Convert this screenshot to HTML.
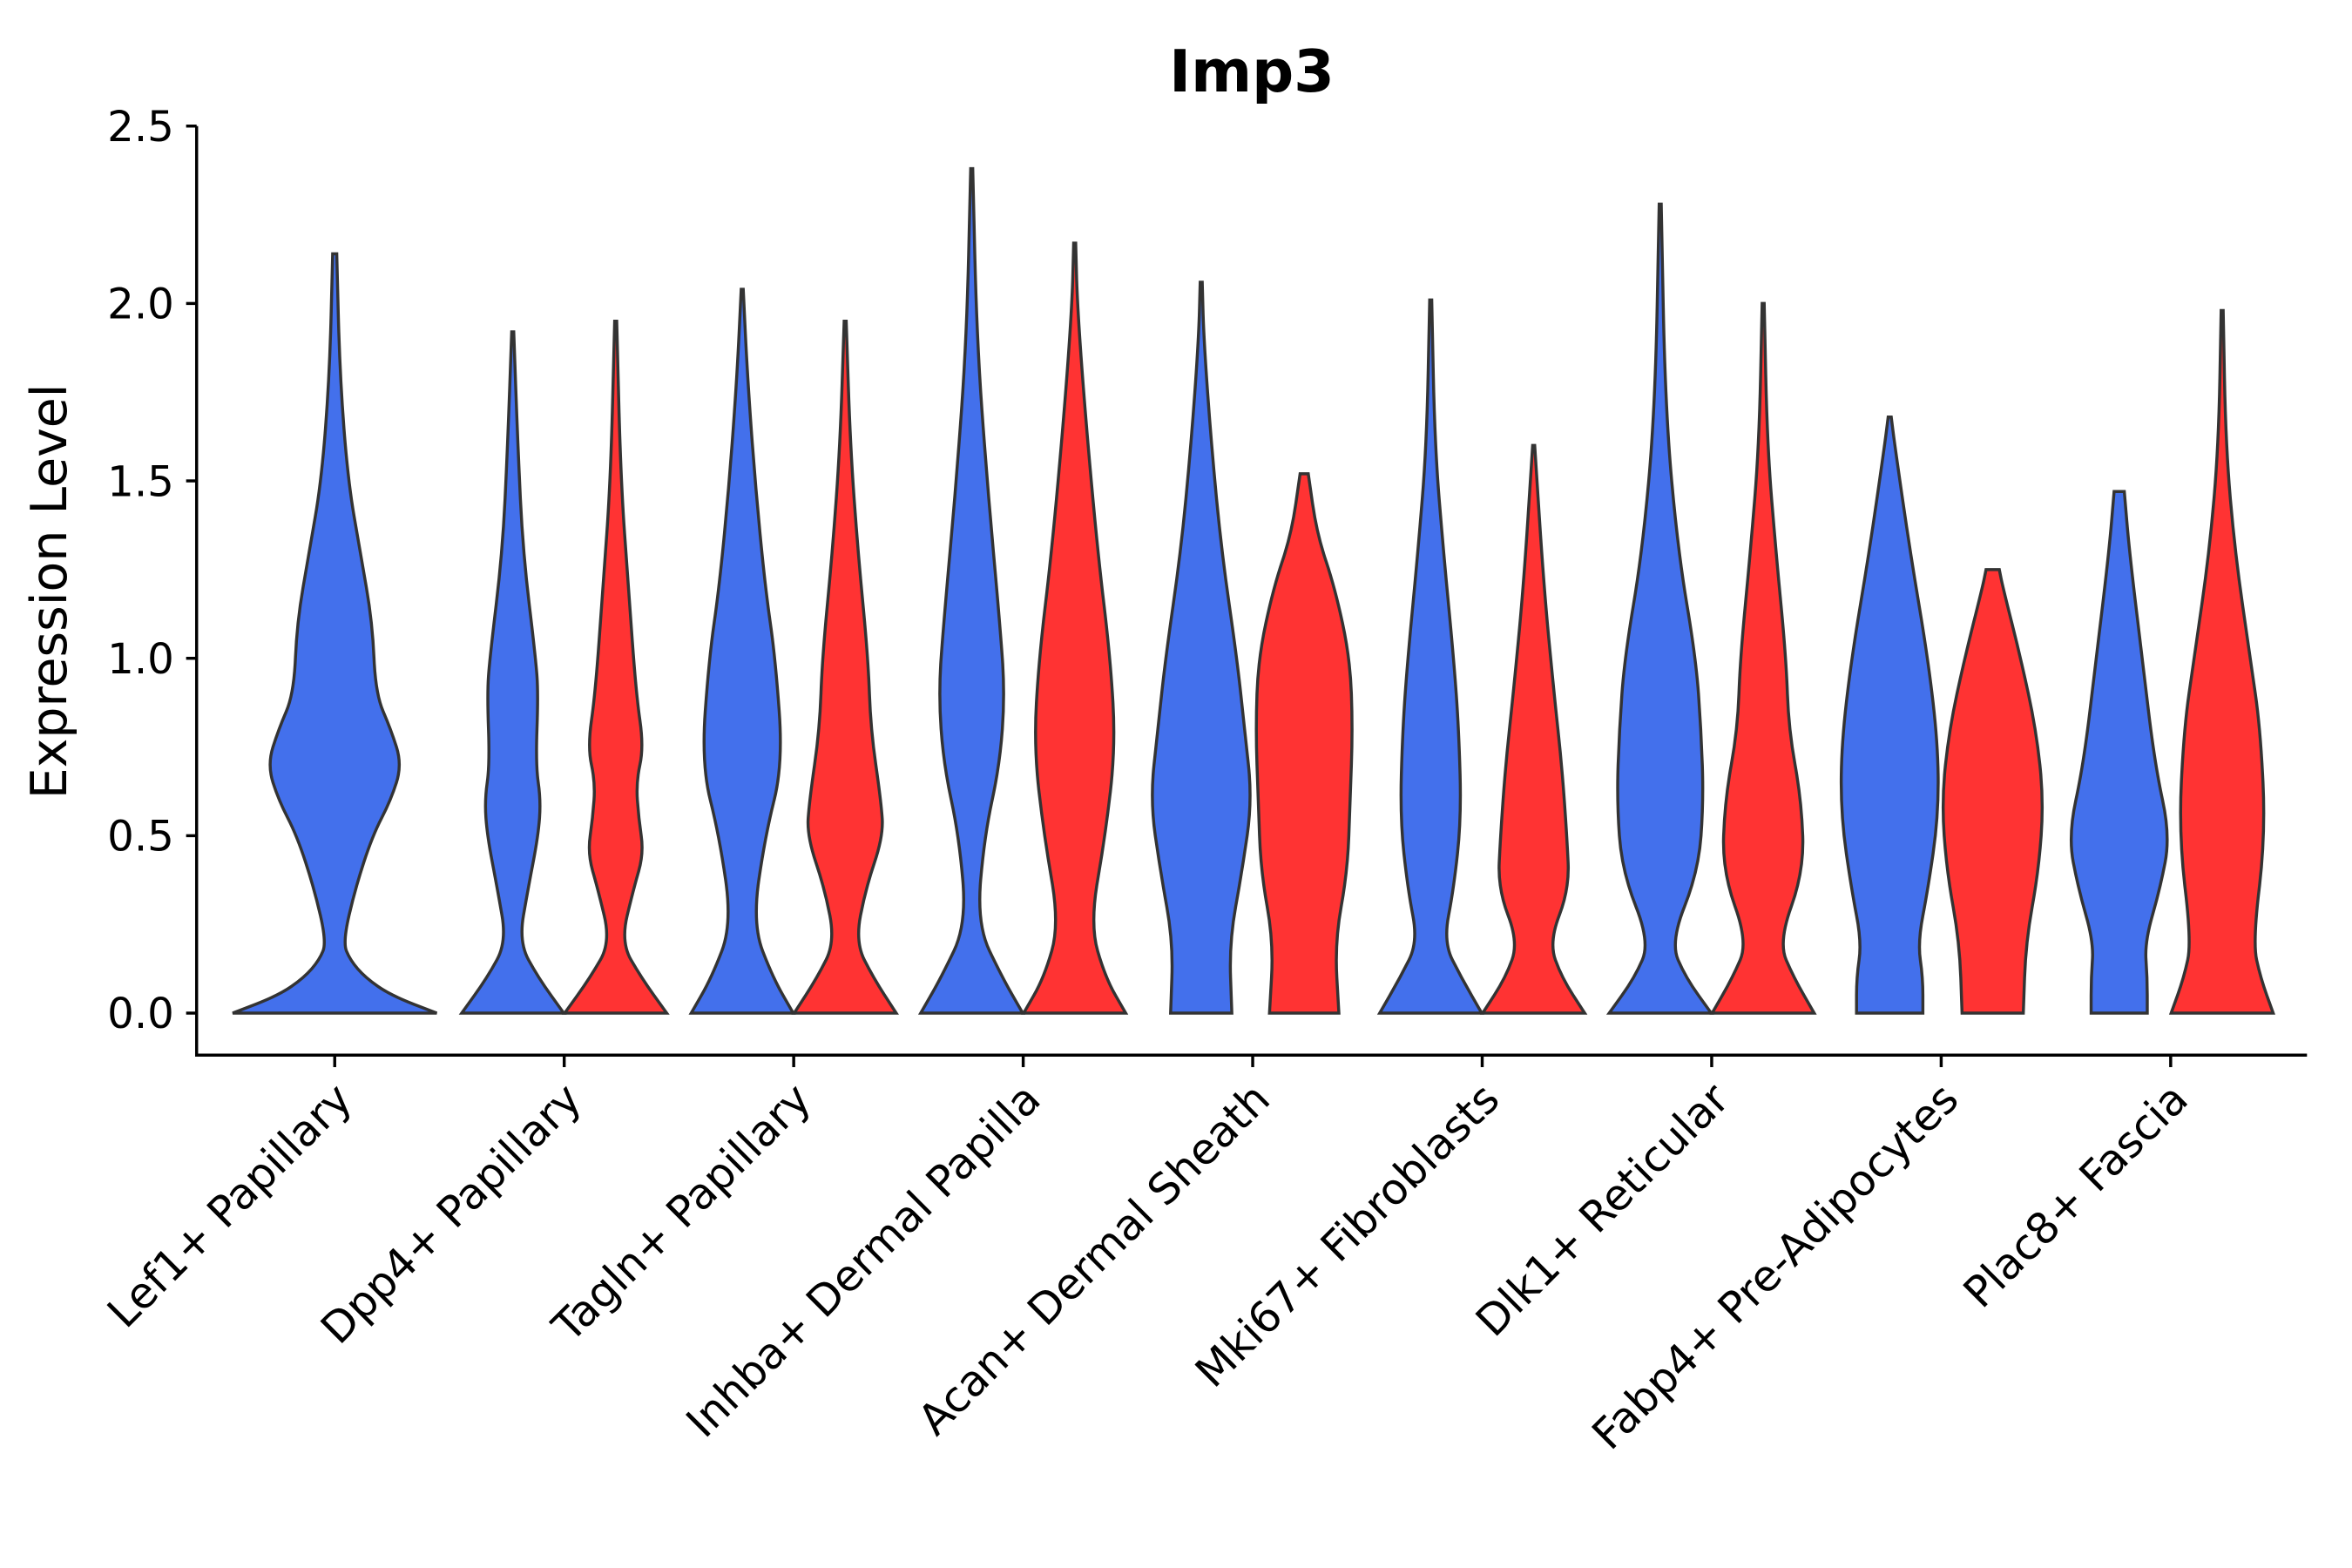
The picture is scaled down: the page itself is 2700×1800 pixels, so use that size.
<!DOCTYPE html>
<html><head><meta charset="utf-8"><style>
html,body{margin:0;padding:0;background:#fff;}
svg{display:block;font-family:"DejaVu Sans","Liberation Sans",sans-serif;}
</style></head><body>
<svg id="chart" width="2700" height="1800" viewBox="0 0 1567 1044.7" preserveAspectRatio="none" xmlns="http://www.w3.org/2000/svg">
<rect width="1567" height="1045" fill="#fff"/>
<text x="834" y="61" text-anchor="middle" font-size="39" font-weight="bold">Imp3</text>
<text transform="translate(44,394) rotate(-90)" text-anchor="middle" font-size="33">Expression Level</text>
<g id="violins"></g>
<g id="axes"></g>
</svg>
<script>
const categories = ["Lef1+ Papillary","Dpp4+ Papillary","Tagln+ Papillary","Inhba+ Dermal Papilla","Acan+ Dermal Sheath","Mki67+ Fibroblasts","Dlk1+ Reticular","Fabp4+ Pre-Adipocytes","Plac8+ Fascia"];
const yTicks = [0,0.5,1.0,1.5,2.0,2.5];
const yTickLabels = ["0.0","0.5","1.0","1.5","2.0","2.5"];
const blueMax = [2.14,1.92,2.04,2.38,2.06,2.01,2.28,1.68,1.47];
const redMax = [null,1.95,1.95,2.17,1.52,1.6,2.0,1.25,1.98];
const blueDensity = [
 [[0,1],[0.05,0.55],[0.1,0.3],[0.15,0.15],[0.2,0.08],[0.35,0.2],[0.5,0.37],[0.6,0.55],[0.7,0.66],[0.8,0.55],[0.9,0.4],[1.1,0.37],[1.3,0.25],[1.5,0.13],[1.8,0.05],[2.14,0.02]],
 [[0,1],[0.1,0.5],[0.2,0.12],[0.35,0.3],[0.5,0.5],[0.6,0.55],[0.7,0.45],[0.9,0.5],[1.0,0.45],[1.3,0.2],[1.6,0.1],[1.92,0.02]],
 [[0,1],[0.1,0.6],[0.25,0.2],[0.5,0.45],[0.7,0.8],[1.0,0.65],[1.2,0.45],[1.5,0.25],[1.8,0.1],[2.04,0.02]],
 [[0,1],[0.1,0.6],[0.25,0.1],[0.5,0.25],[0.7,0.55],[0.9,0.65],[1.1,0.55],[1.5,0.3],[1.9,0.1],[2.38,0.02]],
 [[0,0.6],[0.2,0.55],[0.4,0.8],[0.6,1.0],[0.8,0.85],[1.0,0.7],[1.3,0.4],[1.6,0.2],[1.9,0.05],[2.06,0.02]],
 [[0,1],[0.1,0.6],[0.2,0.25],[0.35,0.45],[0.55,0.6],[0.8,0.55],[1.0,0.45],[1.3,0.25],[1.6,0.08],[2.01,0.02]],
 [[0,1],[0.1,0.5],[0.2,0.2],[0.4,0.75],[0.6,0.85],[0.8,0.8],[1.0,0.7],[1.3,0.35],[1.7,0.1],[2.28,0.02]],
 [[0,0.65],[0.1,0.65],[0.2,0.55],[0.35,0.75],[0.55,0.95],[0.75,0.95],[1.0,0.75],[1.3,0.4],[1.6,0.1],[1.68,0.03]],
 [[0,0.55],[0.1,0.55],[0.2,0.5],[0.35,0.8],[0.5,1.0],[0.7,0.7],[1.0,0.45],[1.3,0.2],[1.47,0.1]]
];
const redDensity = [
 null,
 [[0,1],[0.1,0.5],[0.2,0.1],[0.35,0.35],[0.45,0.55],[0.55,0.45],[0.65,0.4],[0.75,0.55],[0.9,0.4],[1.2,0.25],[1.5,0.1],[1.95,0.02]],
 [[0,1],[0.1,0.55],[0.2,0.2],[0.35,0.4],[0.5,0.75],[0.6,0.7],[0.8,0.5],[1.0,0.45],[1.3,0.25],[1.6,0.1],[1.95,0.02]],
 [[0,1],[0.1,0.6],[0.25,0.3],[0.5,0.6],[0.75,0.8],[1.0,0.7],[1.3,0.45],[1.7,0.2],[2.0,0.05],[2.17,0.02]],
 [[0,0.68],[0.2,0.6],[0.4,0.85],[0.6,0.9],[0.8,0.95],[1.0,0.9],[1.2,0.6],[1.35,0.25],[1.52,0.08]],
 [[0,1],[0.1,0.55],[0.2,0.3],[0.35,0.7],[0.5,0.65],[0.7,0.55],[0.9,0.4],[1.2,0.2],[1.6,0.02]],
 [[0,1],[0.1,0.6],[0.2,0.3],[0.4,0.8],[0.6,0.75],[0.8,0.5],[1.0,0.45],[1.3,0.25],[1.6,0.08],[2.0,0.02]],
 [[0,0.6],[0.2,0.65],[0.4,0.9],[0.6,1.0],[0.8,0.85],[1.0,0.55],[1.2,0.2],[1.25,0.13]],
 [[0,1],[0.1,0.75],[0.2,0.6],[0.5,0.85],[0.8,0.75],[1.0,0.55],[1.3,0.25],[1.6,0.07],[1.98,0.02]]
];

const NS="http://www.w3.org/2000/svg";
const x0=223, step=152.9, dodge=34.3;
const yS=v=>675-v*236.4;
const xC=i=>x0+i*step;
function mk(tag,attrs,parent){const e=document.createElementNS(NS,tag);for(const k in attrs)e.setAttribute(k,attrs[k]);parent.appendChild(e);return e;}

function violinPath(cx,half,dens,maxV){
  const pts=dens.slice();
  pts[pts.length-1]=[maxV,pts[pts.length-1][1]];
  const right=pts.map(p=>[cx+p[1]*half,yS(p[0])]);
  const left=pts.slice().reverse().map(p=>[cx-p[1]*half,yS(p[0])]);
  let d="M"+(cx-pts[0][1]*half)+","+yS(0)+" L"+right[0][0]+","+right[0][1];
  function smooth(arr){let s="";for(let i=1;i<arr.length;i++){const m=[(arr[i-1][0]+arr[i][0])/2,(arr[i-1][1]+arr[i][1])/2];s+=" Q"+arr[i-1][0]+","+arr[i-1][1]+" "+m[0]+","+m[1];}s+=" L"+arr[arr.length-1][0]+","+arr[arr.length-1][1];return s;}
  d+=smooth(right);
  d+=" L"+left[0][0]+","+left[0][1];
  d+=smooth(left);
  d+=" Z";
  return d;
}
const vg=document.getElementById("violins");
categories.forEach((c,i)=>{
  const single=redDensity[i]===null;
  const bx=single?xC(i):xC(i)-dodge;
  const p=mk("path",{d:violinPath(bx,single?68:34,blueDensity[i],blueMax[i]),fill:"#4370EC",stroke:"#333","stroke-width":2},vg);
  
  
  if(!single){
    const r=mk("path",{d:violinPath(xC(i)+dodge,34,redDensity[i],redMax[i]),fill:"#FF3333",stroke:"#333","stroke-width":2},vg);
    
    
  }
});
const ag=document.getElementById("axes");
const ya=mk("line",{x1:131,y1:84,x2:131,y2:703,stroke:"#000","stroke-width":2},ag);


const xa=mk("line",{x1:130,y1:703,x2:1537,y2:703,stroke:"#000","stroke-width":2},ag);


yTicks.forEach((t,i)=>{
  const tk=mk("line",{x1:124,y1:yS(t),x2:131,y2:yS(t),stroke:"#000","stroke-width":2},ag);
  
  
  const tx=mk("text",{x:116,y:yS(t)+10,"text-anchor":"end","font-size":28},ag);
  tx.textContent=yTickLabels[i];
  
  
});
categories.forEach((c,i)=>{
  const x=xC(i);
  const tk=mk("line",{x1:x,y1:703,x2:x,y2:711,stroke:"#000","stroke-width":2},ag);
  
  
  const tx=mk("text",{transform:"translate("+(x+13)+",734) rotate(-45)","text-anchor":"end","font-size":28.5},ag);
  tx.textContent=c;
  
  
});
</script>
</body></html>
